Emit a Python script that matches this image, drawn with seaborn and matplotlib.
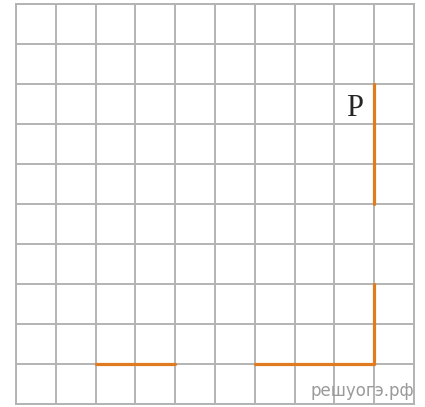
import pandas as pd
import seaborn as sns
import matplotlib.pyplot as plt

# grid size (cells)
n_cols = 10
n_rows = 10

# orange segments: start / end points in grid units (y counted from the bottom)
seg_x0 = [9, 9, 6, 2]
seg_y0 = [8, 3, 1, 1]
seg_x1 = [9, 9, 9, 4]
seg_y1 = [5, 1, 1, 1]

label_text = "P"
label_x, label_y = 8.5, 7.4
watermark = "решуогэ.рф"

rows = []
for i in range(len(seg_x0)):
    rows.append({"seg": i, "x": seg_x0[i], "y": seg_y0[i]})
    rows.append({"seg": i, "x": seg_x1[i], "y": seg_y1[i]})
df = pd.DataFrame(rows)

sns.set_style("white")
fig = plt.figure(figsize=(4.25, 4.07), dpi=100)
ax = fig.add_axes([16 / 425, 3 / 407, 398 / 425, 400 / 407])

grid_col = "#b3b3b3"
ax.set_xticks(range(n_cols + 1))
ax.set_yticks(range(n_rows + 1))
ax.grid(True, color=grid_col, linewidth=1.4)
ax.set_axisbelow(True)
for s in ax.spines.values():
    s.set_color(grid_col)
    s.set_linewidth(1.4)
ax.tick_params(length=0, labelbottom=False, labelleft=False)

sns.lineplot(data=df, x="x", y="y", units="seg", estimator=None, sort=False,
             color="#e07b1f", linewidth=2.3, ax=ax, legend=False)

ax.set_xlim(0, n_cols)
ax.set_ylim(0, n_rows)
ax.set_xlabel("")
ax.set_ylabel("")

ax.text(label_x, label_y, label_text, ha="center", va="center",
        fontsize=22, family="Liberation Serif")
fig.text(414 / 425, 1 - 391 / 407, watermark, ha="right", va="center",
         fontsize=12, color="#9a9a9a", family="DejaVu Sans")

fig.savefig("out.png", dpi=100)
